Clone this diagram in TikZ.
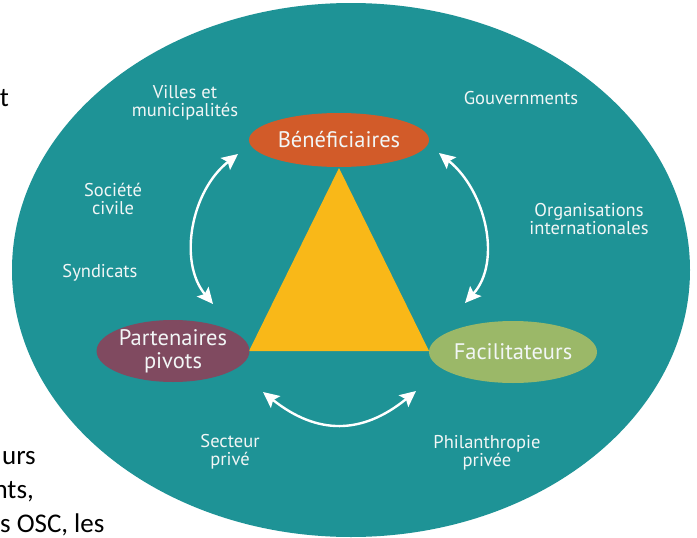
\documentclass[tikz,border=0pt]{standalone}
\usepackage{fontspec}
\setmainfont{PT Sans}
\newfontfamily\bodyfont{Carlito}
\usetikzlibrary{arrows.meta,shapes.geometric}
\definecolor{ringteal}{RGB}{30,147,150}
\definecolor{benefcol}{RGB}{210,91,41}
\definecolor{pivotcol}{RGB}{128,74,96}
\definecolor{facilcol}{RGB}{155,184,104}
\definecolor{coreyellow}{RGB}{249,184,24}
\definecolor{labelwhite}{RGB}{242,246,246}
\tikzset{
  role/.style={ellipse, inner sep=0pt, text=labelwhite, align=center,
    font=\fontsize{22.5}{23}\selectfont},
  actor/.style={text=labelwhite, align=center, inner sep=0pt,
    font=\fontsize{18.5}{18.5}\selectfont},
  link/.style={white, line width=2.4pt,
    {Stealth[length=16pt,width=15pt,inset=3pt]}-{Stealth[length=16pt,width=15pt,inset=3pt]}},
  bodytext/.style={text=black, inner sep=0pt, font=\bodyfont\fontsize{27}{34}\selectfont}
}
\begin{document}
\begin{tikzpicture}[x=1pt,y=-1pt]
\path[use as bounding box, clip] (0,0) rectangle (697,538);
\fill[white] (0,0) rectangle (697,538);

% running text on the page behind the diagram
\node[bodytext, anchor=base east] (t0) at (9,106) {t};
\node[bodytext, anchor=base east] (t1) at (36,464) {urs};
\node[bodytext, anchor=base east] (t2) at (34,498) {nts,};
\node[bodytext, anchor=base west] (t3) at (0,532) {s OSC, les};

% outer ring of actors
\fill[ringteal] (351,270) ellipse [x radius=339, y radius=267];

% central triangle
\fill[coreyellow] (339,168) -- (249,351) -- (429,351) -- cycle;

% the three roles
\node[role, fill=benefcol, minimum width=180, minimum height=54] (benef) at (339,140) {Bénéficiaires};
\node[role, fill=pivotcol, minimum width=152, minimum height=62] (pivot) at (173,351) {Partenaires\\pivots};
\node[role, fill=facilcol, minimum width=168, minimum height=62] (facil) at (513,352) {Facilitateurs};

% actor labels
\node[actor] (villes) at (185,103) {Villes et\\municipalités};
\node[actor] (gouv) at (521,98) {Gouvernments};
\node[actor] (civile) at (113,199) {Société\\civile};
\node[actor] (synd) at (100,273) {Syndicats};
\node[actor] (orgint) at (589,219) {Organisations\\internationales};
\node[actor] (prive) at (230,452) {Secteur\\privé};
\node[actor] (phil) at (487,453) {Philanthropie\\privée};

% two-way exchanges between roles
\coordinate (lt) at (238,154);
\coordinate (lb) at (213,304);
\coordinate (rt) at (439,153);
\coordinate (rb) at (465,303);
\coordinate (bl) at (263,392);
\coordinate (br) at (416,391);
\draw[link] (lt) .. controls (191,191) and (178,262) .. (lb);
\draw[link] (rt) .. controls (486,191) and (502,262) .. (rb);
\draw[link] (bl) .. controls (317,435) and (362,435) .. (br);
\end{tikzpicture}
\end{document}
